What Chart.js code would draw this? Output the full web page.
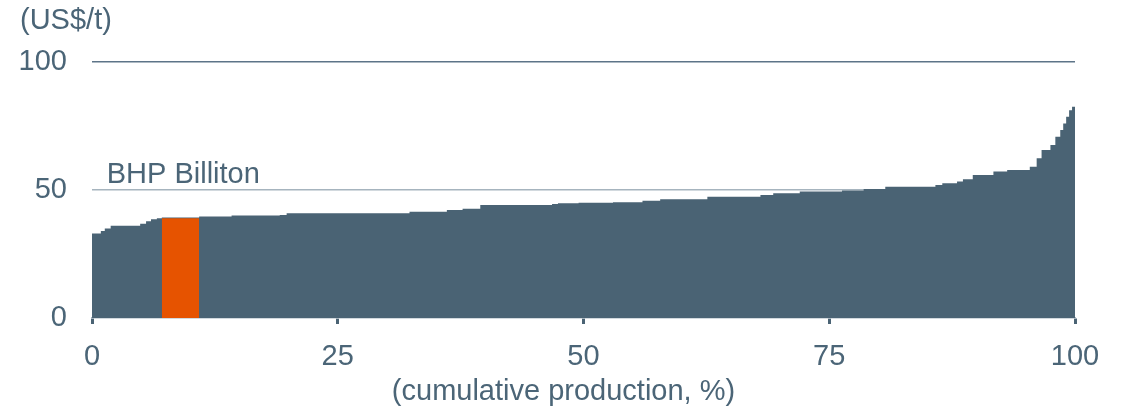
<!DOCTYPE html>
<html>
<head>
<meta charset="utf-8">
<script src="https://cdn.jsdelivr.net/npm/chart.js@4/dist/chart.umd.min.js"></script>
<style>
  html, body { margin: 0; padding: 0; background: #fff; }
  canvas { display: block; }
</style>
</head>
<body>
<canvas id="curve" width="1127" height="413"></canvas>
<script>
// cost curve steps: left edge of each step (cumulative production, %) and its cost (US$/t)
const stepStart = [0, 0.9, 1.3, 1.9, 4.9, 5.5, 6.0, 6.6, 7.1, 10.9, 14.2, 19.1, 19.8, 32.3, 36.1, 37.7, 39.5, 46.8, 47.4,
  49.5, 53.0, 56.0, 57.8, 62.6, 68.0, 69.3, 72.0, 76.3, 78.5, 80.7, 85.8, 86.5, 88.0, 88.6, 89.6, 91.7, 93.1, 95.4,
  96.1, 96.6, 97.5, 98.0, 98.5, 98.8, 99.1, 99.4, 99.7, 99.9, 100];
const stepCost = [30.5, 33, 34, 35, 36, 36.8, 37.8, 38.6, 39, 39.3, 39.6, 40.0, 40.2, 40.9, 41.5, 42.2, 42.7, 44.1, 44.5,
  44.8, 45.0, 45.2, 45.8, 46.4, 47.4, 48.0, 48.7, 49.4, 49.8, 50.4, 51.3, 52.0, 52.6, 53.3, 54.2, 55.9, 57.2, 57.8,
  59.1, 62.4, 65.6, 67.6, 70.8, 73.4, 76.0, 78.6, 81.2, 82.5, 82.5];

// BHP Billiton block
const bhpStart = 7.1;
const bhpEnd = 10.9;
const bhpCost = 39;

const xTicks = [0, 25, 50, 75, 100];
const yTicks = [0, 50, 100];

const slate = '#4a6374';
const textColor = '#4b6577';
const font = { family: '"Liberation Sans", Arial, sans-serif', size: 29 };

const labelsPlugin = {
  id: 'costLabels',
  afterDraw(chart) {
    const { ctx, scales } = chart;
    ctx.save();
    ctx.fillStyle = textColor;
    ctx.font = `${font.size}px ${font.family}`;
    ctx.textBaseline = 'middle';
    ctx.textAlign = 'left';
    ctx.fillText('(US$/t)', 20, 21);
    ctx.textBaseline = 'alphabetic';
    ctx.fillText('BHP Billiton', scales.x.getPixelForValue(1.5), scales.y.getPixelForValue(50) - 7);
    ctx.textAlign = 'center';
    ctx.fillText('(cumulative production, %)', chart.width / 2, 400);
    ctx.restore();
  }
};

new Chart(document.getElementById('curve'), {
  type: 'line',
  data: {
    datasets: [
      {
        label: 'BHP Billiton',
        data: [{ x: bhpStart, y: bhpCost }, { x: bhpEnd, y: bhpCost }],
        stepped: 'after',
        fill: 'origin',
        backgroundColor: '#e65300',
        borderWidth: 0,
        pointRadius: 0,
        order: 0,
      },
      {
        label: 'Industry',
        data: stepStart.map((x, i) => ({ x, y: stepCost[i] })),
        stepped: 'after',
        fill: 'origin',
        backgroundColor: slate,
        borderWidth: 0,
        pointRadius: 0,
        order: 1,
      },
    ],
  },
  options: {
    responsive: false,
    animation: false,
    layout: { padding: { top: 62, right: 52, left: 0, bottom: 0 } },
    plugins: {
      legend: { display: false },
      tooltip: { enabled: false },
    },
    scales: {
      x: {
        type: 'linear',
        min: 0,
        max: 100,
        afterBuildTicks: (scale) => { scale.ticks = xTicks.map((v) => ({ value: v })); },
        afterFit: (scale) => { scale.height = 95; },
        ticks: { color: textColor, font, padding: 16, maxRotation: 0 },
        grid: {
          drawOnChartArea: false,
          drawTicks: true,
          tickLength: 6,
          tickColor: slate,
          tickWidth: 3,
        },
        border: { color: '#a6b4be', width: 1.5 },
      },
      y: {
        min: 0,
        max: 100,
        afterBuildTicks: (scale) => { scale.ticks = yTicks.map((v) => ({ value: v })); },
        afterFit: (scale) => { scale.width = 92; },
        ticks: { color: textColor, font, padding: 25 },
        grid: {
          drawTicks: false,
          lineWidth: 1.5,
          color: (c) => c.tick.value === 100 ? '#5d7488' : c.tick.value === 50 ? '#a6b4be' : 'rgba(0,0,0,0)',
        },
        border: { display: false },
      },
    },
  },
  plugins: [labelsPlugin],
});
</script>
</body>
</html>
